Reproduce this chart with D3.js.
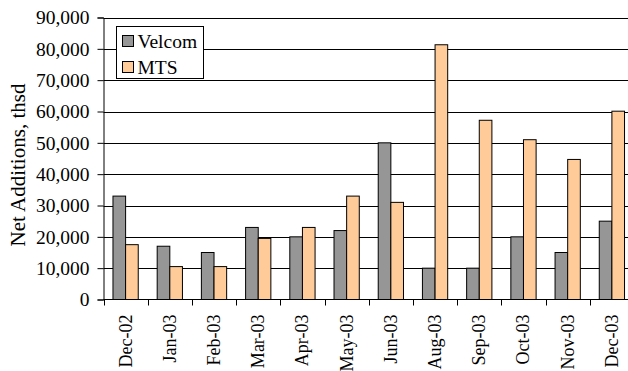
<!DOCTYPE html>
<html>
<head>
<meta charset="utf-8">
<script src="https://cdn.jsdelivr.net/npm/d3@7"></script>
<style>
  html, body { margin: 0; padding: 0; background: #fff; }
  svg { display: block; }
</style>
</head>
<body>
<svg id="chart" width="628" height="371"></svg>
<script>
// Monthly net subscriber additions (thousands) for the two operators
const months = ["Dec-02", "Jan-03", "Feb-03", "Mar-03", "Apr-03", "May-03",
                "Jun-03", "Aug-03", "Sep-03", "Oct-03", "Nov-03", "Dec-03"];
const velcom = [33000, 17000, 15000, 23000, 20000, 22000, 50000, 10000, 10000, 20000, 15000, 25000];
const mts    = [17500, 10500, 10500, 19500, 23000, 33000, 31000, 81300, 57200, 51000, 44700, 60100];
const seriesNames = ["Velcom", "MTS"];
const seriesColors = ["#969696", "#FFCC99"];
const yTicks = [0, 10000, 20000, 30000, 40000, 50000, 60000, 70000, 80000, 90000];

const FONT = "'Liberation Serif', 'Times New Roman', 'DejaVu Serif', serif";

const svg = d3.select("#chart");
const plotL = 103.5, plotR = 634, plotT = 17.5, plotB = 299.5;

const x = d3.scaleBand().domain(months).range([plotL, plotR]).paddingInner(0).paddingOuter(0);
// two bars per month, gap between groups 1.5 bar widths
const inner = d3.scaleBand().domain(seriesNames).range([0, x.bandwidth()])
  .paddingInner(0).paddingOuter(0.75);
const y = d3.scaleLinear().domain([0, 90000]).range([plotB, plotT]);

// horizontal gridlines
svg.append("g")
  .selectAll("line")
  .data(yTicks.filter(d => d > 0))
  .join("line")
  .attr("x1", plotL).attr("x2", plotR)
  .attr("y1", d => Math.round(y(d)) + 0.5).attr("y2", d => Math.round(y(d)) + 0.5)
  .attr("stroke", "#000").attr("stroke-width", 1);

// bars
const rows = months.map((m, i) => ({ m, vals: [velcom[i], mts[i]] }));
const groups = svg.append("g").selectAll("g")
  .data(rows).join("g")
  .attr("transform", d => `translate(${x(d.m)},0)`);
groups.selectAll("rect")
  .data(d => d.vals.map((v, j) => ({ v, s: seriesNames[j], c: seriesColors[j] })))
  .join("rect")
  .attr("x", d => inner(d.s))
  .attr("width", inner.bandwidth())
  .attr("y", d => y(d.v))
  .attr("height", d => plotB - y(d.v))
  .attr("fill", d => d.c)
  .attr("stroke", "#000").attr("stroke-width", 1);

// y axis
const yAxis = svg.append("g")
  .attr("transform", `translate(${plotL},0)`)
  .call(d3.axisLeft(y).tickValues(yTicks).tickSize(6).tickPadding(8)
    .tickFormat(d3.format(",")));
yAxis.attr("font-family", null).attr("font-size", null);
yAxis.selectAll("path, line").attr("stroke", "#000");
yAxis.selectAll("text")
  .attr("fill", "#000")
  .style("font-family", FONT)
  .style("font-size", "19.5px");

// x axis: ticks sit on category boundaries
const xAxis = svg.append("g").attr("transform", `translate(0,${plotB})`);
xAxis.append("line").attr("x1", plotL).attr("x2", plotR).attr("stroke", "#000");
xAxis.selectAll("line.tick")
  .data(months)
  .join("line")
  .attr("class", "tick")
  .attr("x1", d => Math.round(x(d)) + 0.5).attr("x2", d => Math.round(x(d)) + 0.5)
  .attr("y1", 0).attr("y2", 6)
  .attr("stroke", "#000");
xAxis.selectAll("text")
  .data(months)
  .join("text")
  .attr("transform", d => `translate(${x(d) + x.bandwidth() / 2 + 6},15) rotate(-90)`)
  .attr("text-anchor", "end")
  .style("font-family", FONT)
  .style("font-size", "18px")
  .text(d => d);

// axis title
svg.append("text")
  .attr("transform", `translate(25,165) rotate(-90)`)
  .attr("text-anchor", "middle")
  .style("font-family", FONT)
  .style("font-size", "21px")
  .text("Net Additions, thsd");

// legend
const lg = svg.append("g").attr("transform", "translate(116.5,26.5)");
lg.append("rect").attr("width", 87).attr("height", 52)
  .attr("fill", "#fff").attr("stroke", "#000");
seriesNames.forEach((name, i) => {
  lg.append("rect")
    .attr("x", 6).attr("y", 9 + i * 26).attr("width", 11).attr("height", 11)
    .attr("fill", seriesColors[i]).attr("stroke", "#000");
  lg.append("text")
    .attr("x", 21).attr("y", 21 + i * 26)
    .style("font-family", FONT)
    .style("font-size", "19.5px")
    .text(name);
});
</script>
</body>
</html>
